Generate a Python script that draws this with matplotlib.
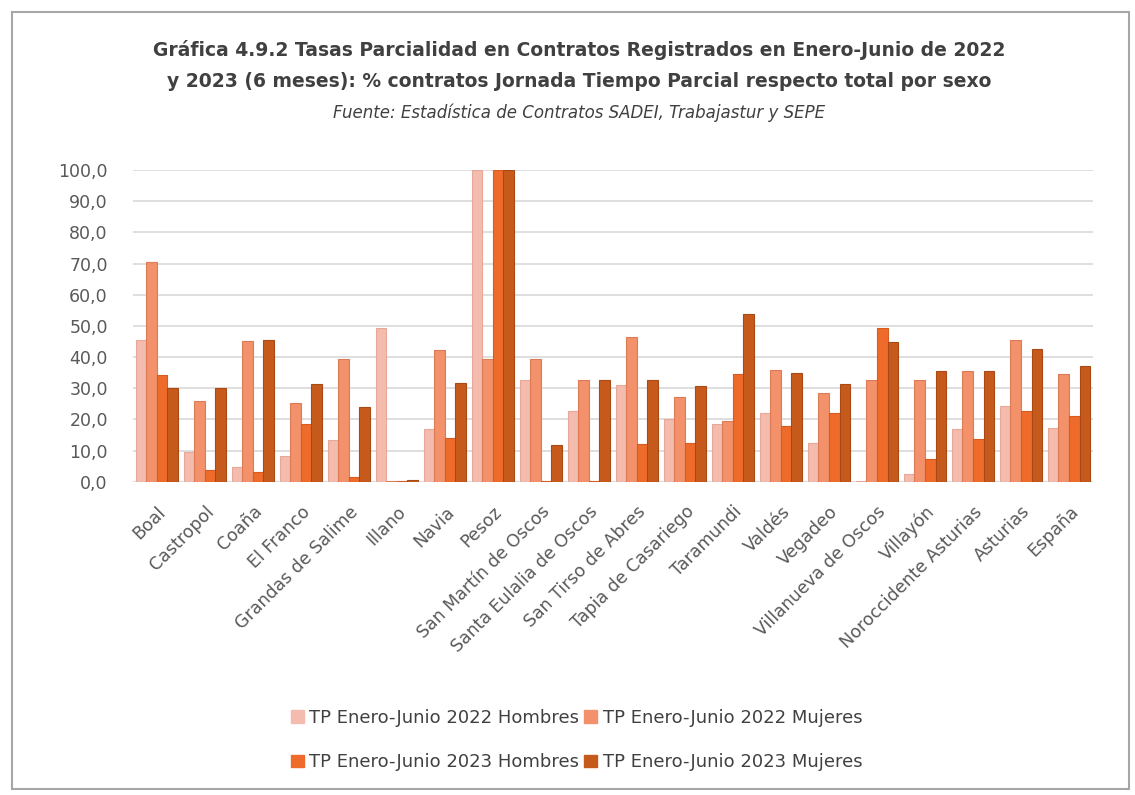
import matplotlib.pyplot as plt
import matplotlib.patches as mpatches
import numpy as np

municipios = ["Boal", "Castropol", "Coaña", "El Franco", "Grandas de Salime", "Illano",
              "Navia", "Pesoz", "San Martín de Oscos", "Santa Eulalia de Oscos",
              "San Tirso de Abres", "Tapia de Casariego", "Taramundi", "Valdés", "Vegadeo",
              "Villanueva de Oscos", "Villayón", "Noroccidente Asturias", "Asturias", "España"]

h2022 = [45.5, 9.5, 4.7, 8.4, 13.5, 49.4, 16.8, 100.0, 32.6, 22.6,
         31.0, 20.0, 18.5, 22.0, 12.6, 0.3, 2.6, 16.8, 24.2, 17.4]
m2022 = [70.4, 26.0, 45.2, 25.2, 39.4, 0.3, 42.3, 39.4, 39.4, 32.6,
         46.3, 27.3, 19.5, 36.0, 28.4, 32.6, 32.6, 35.7, 45.5, 34.5]
h2023 = [34.2, 3.7, 3.2, 18.4, 1.6, 0.3, 14.2, 100.0, 0.3, 0.3,
         12.1, 12.6, 34.5, 17.9, 22.0, 49.4, 7.4, 13.7, 22.6, 21.0]
m2023 = [30.0, 30.0, 45.4, 31.5, 24.0, 0.5, 31.8, 100.0, 11.8, 32.6,
         32.6, 30.8, 53.8, 35.0, 31.5, 44.7, 35.7, 35.7, 42.6, 37.0]

series = [h2022, m2022, h2023, m2023]
nombres = ["TP Enero-Junio 2022 Hombres", "TP Enero-Junio 2022 Mujeres",
           "TP Enero-Junio 2023 Hombres", "TP Enero-Junio 2023 Mujeres"]
colores = ["#F4BCAE", "#F3916B", "#EE6B2B", "#C65A1C"]
bordes = ["#E7A898", "#DC7C57", "#D85B20", "#A84A15"]

fig = plt.figure(figsize=(11.35, 7.95), dpi=100)
ax = fig.add_axes([0.117, 0.394, 0.846, 0.392])

x = np.arange(len(municipios))
w = 0.22
for i, (vals, nom, c, b) in enumerate(zip(series, nombres, colores, bordes)):
    ax.bar(x + (i - 1.5) * w, vals, w, color=c, edgecolor=b, linewidth=0.8, label=nom, zorder=3)

ax.set_xlim(-0.5, len(municipios) - 0.5)
ax.set_ylim(0, 100)
ax.set_yticks(np.arange(0, 101, 10))
ax.set_yticklabels([f"{v:.1f}".replace(".", ",") for v in np.arange(0, 101, 10)],
                   fontsize=12.5, color="#595959")
ax.set_xticks(x)
ax.set_xticklabels(municipios, rotation=45, ha="right", rotation_mode="anchor",
                   fontsize=12.5, color="#595959")
ax.tick_params(axis="x", length=0, pad=15)
ax.tick_params(axis="y", length=0, pad=18)
ax.grid(axis="y", color="#D9D9D9", linewidth=1.2, zorder=0)
for s in ax.spines.values():
    s.set_visible(False)

fig.text(0.51, 0.937, "Gráfica 4.9.2 Tasas Parcialidad en Contratos Registrados en Enero-Junio de 2022",
         ha="center", va="center", fontsize=13.5, fontweight="bold", color="#404040")
fig.text(0.51, 0.898, "y 2023 (6 meses): % contratos Jornada Tiempo Parcial respecto total por sexo",
         ha="center", va="center", fontsize=13.5, fontweight="bold", color="#404040")
fig.text(0.51, 0.858, "Fuente: Estadística de Contratos SADEI, Trabajastur y SEPE",
         ha="center", va="center", fontsize=12, style="italic", color="#404040")

# orden por filas: 2022 arriba, 2023 abajo
orden = [0, 2, 1, 3]
handles = [mpatches.Patch(color=colores[k]) for k in orden]
etiquetas = [nombres[k] for k in orden]
fig.legend(handles, etiquetas, loc="center", bbox_to_anchor=(0.508, 0.069), ncol=2,
           frameon=False, fontsize=13, handlelength=0.7, handleheight=0.7,
           handletextpad=0.3, columnspacing=0.3, labelspacing=1.45, labelcolor="#404040")

fig.patches.append(mpatches.Rectangle((0.011, 0.008), 0.984, 0.977, transform=fig.transFigure,
                                      fill=False, edgecolor="#A6A6A6", linewidth=1.5))

fig.savefig("out.png", dpi=100)
